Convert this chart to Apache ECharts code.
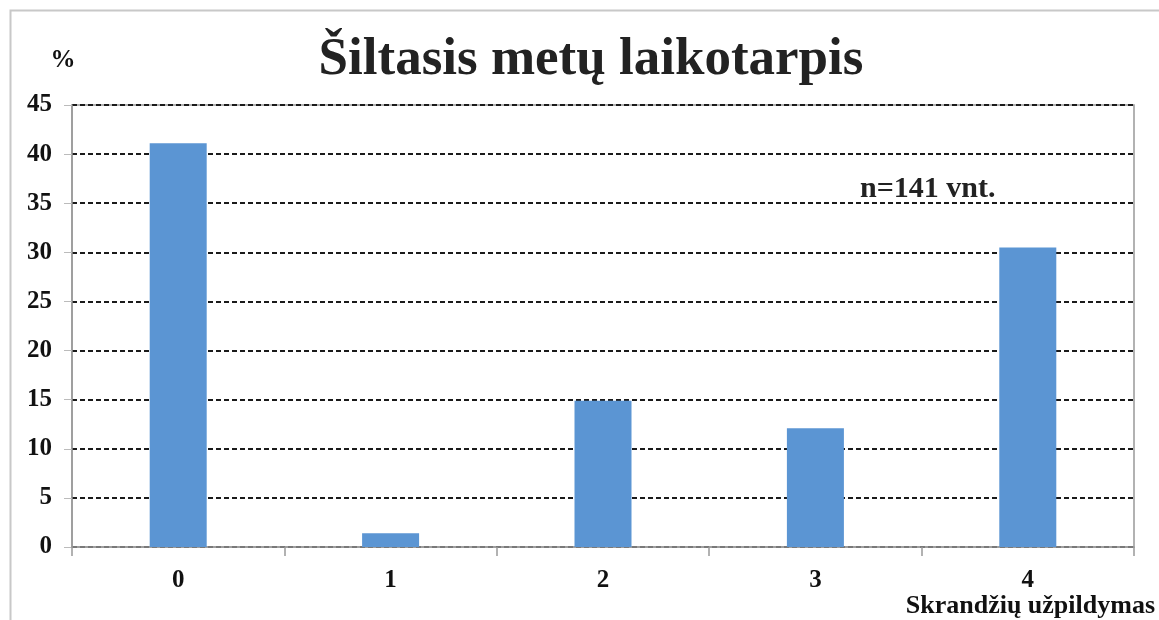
<!DOCTYPE html>
<html>
<head>
<meta charset="utf-8">
<script src="https://cdn.jsdelivr.net/npm/echarts@6/dist/echarts.min.js"></script>
<style>
  html, body { margin: 0; padding: 0; background: #fff; }
  #chart { width: 1159px; height: 620px; }
</style>
</head>
<body>
<div id="chart"></div>
<script>
// skrandžių užpildymo balai ir jų dalis (%), n = 141
const categories = ['0', '1', '2', '3', '4']
const percents = [41.1, 1.4, 14.9, 12.1, 30.5]
const yMin = 0
const yMax = 45
const yStep = 5

const serif = '"Liberation Serif", "DejaVu Serif", serif'

const myChart = echarts.init(document.getElementById('chart'))
const option = {
  backgroundColor: '#fff',
  title: {
    text: 'Šiltasis metų laikotarpis',
    left: 586,
    top: 29,
    textAlign: 'center',
    textStyle: {
      fontFamily: serif,
      fontWeight: 'bold',
      fontSize: 53,
      color: '#222'
    }
  },
  grid: {
    left: 72,
    right: 25,
    top: 105,
    bottom: 73,
    show: true,
    borderColor: '#999',
    borderWidth: 1.5
  },
  xAxis: {
    type: 'category',
    data: categories,
    name: 'Skrandžių užpildymas',
    nameLocation: 'end',
    nameGap: 21,
    nameTextStyle: {
      fontFamily: serif,
      fontWeight: 'bold',
      fontSize: 26,
      color: '#111',
      align: 'right',
      verticalAlign: 'top',
      padding: [46, 0, 0, 0]
    },
    axisLine: { lineStyle: { color: '#999', width: 1.5 } },
    axisTick: { show: true, length: 9, lineStyle: { color: '#999', width: 1.5 } },
    axisLabel: {
      margin: 21,
      fontFamily: serif,
      fontWeight: 'bold',
      fontSize: 25,
      color: '#111'
    }
  },
  yAxis: {
    type: 'value',
    min: yMin,
    max: yMax,
    interval: yStep,
    name: '%',
    nameLocation: 'end',
    nameGap: 32,
    nameTextStyle: {
      fontFamily: serif,
      fontWeight: 'bold',
      fontSize: 25,
      color: '#111',
      padding: [0, 18, 0, 0]
    },
    axisLine: { show: true, lineStyle: { color: '#999', width: 1.5 } },
    axisTick: { show: true, length: 8, lineStyle: { color: '#bbb' } },
    axisLabel: {
      margin: 20,
      fontFamily: serif,
      fontWeight: 'bold',
      fontSize: 25,
      color: '#111'
    },
    splitLine: {
      lineStyle: { color: '#1a1a1a', type: [5, 3], width: 1.8 }
    }
  },
  series: [
    {
      type: 'bar',
      data: percents,
      barWidth: 57,
      itemStyle: { color: '#5b95d3' }
    }
  ],
  graphic: [
    {
      type: 'rect',
      left: 8,
      top: 8,
      shape: { width: 1200, height: 700 },
      style: { fill: 'none', stroke: '#c8c8c8', lineWidth: 2 },
      silent: true
    },
    {
      type: 'text',
      left: 860,
      top: 174,
      style: {
        text: 'n=141 vnt.',
        font: 'bold 30px ' + serif,
        fill: '#222'
      }
    }
  ]
}
option && myChart.setOption(option)
</script>
</body>
</html>
